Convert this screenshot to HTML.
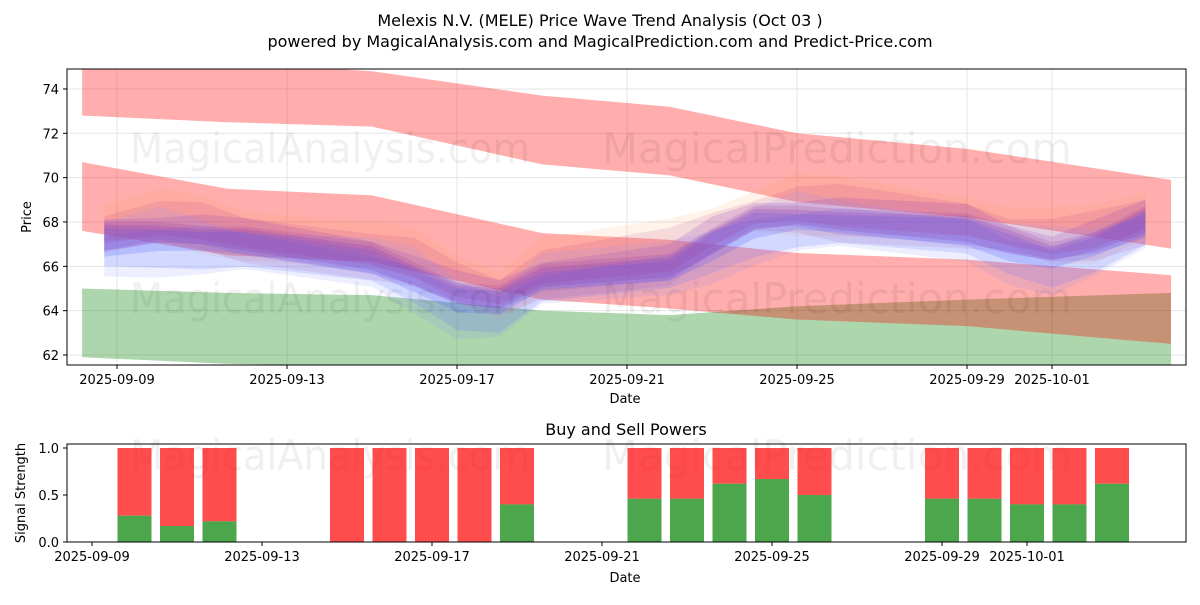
<!DOCTYPE html>
<html><head><meta charset="utf-8"><style>
body{margin:0;background:#fff;font-family:"Liberation Sans","DejaVu Sans",sans-serif;}
svg text{font-family:"DejaVu Sans","Liberation Sans",sans-serif;}
</style></head><body>
<svg id="c" width="1200" height="600" xmlns="http://www.w3.org/2000/svg"></svg>
<script>
// ---- data ----
const xTickLabels = ["2025-09-09","2025-09-13","2025-09-17","2025-09-21","2025-09-25","2025-09-29","2025-10-01"];
const xTickDays = [0,4,8,12,16,20,22];
const yTicks = [62,64,66,68,70,72,74];
const bandDays = [-0.82,2.6,6,10,13,16,20,24.8];
const redTopUpper = [75.5,75.2,74.8,73.7,73.2,72.0,71.3,69.9];
const redTopLower = [72.8,72.5,72.3,70.6,70.1,68.9,68.2,66.8];
const redMidUpper = [70.7,69.5,69.2,67.5,67.2,66.6,66.3,65.6];
const redMidLower = [67.6,66.5,66.2,64.5,64.1,63.6,63.3,62.5];
const greenUpper = [65.0,64.8,64.7,64.0,63.8,64.2,64.5,64.8];
const greenLower = [61.9,61.6,61.5,61.2,60.9,60.5,59.8,58.8];
const waveDays = [-0.3,1,2,3,6,7,8,9,10,13,14,15,16,17,20,21,22,23,24.2];
const waveCenter = [67.2,67.4,67.2,67.0,66.3,65.6,64.6,64.3,65.4,66.0,67.0,67.9,68.1,68.0,67.6,67.0,66.5,66.9,67.9];
const barDays = [1,2,3,6,7,8,9,10,13,14,15,16,17,20,21,22,23,24];
const buyPower = [0.28,0.17,0.22,0,0,0,0,0.4,0.46,0.46,0.62,0.67,0.5,0.46,0.46,0.4,0.4,0.62];

const NS="http://www.w3.org/2000/svg", svg=document.getElementById('c');
function mk(t,a,p){const e=document.createElementNS(NS,t);for(const k in a)e.setAttribute(k,a[k]);(p||svg).appendChild(e);return e;}
const T={l:67,r:1186,t:69,b:365};
const xT=d=>117+d*42.5, yT=v=>355-(v-62)*22.17;
const B={l:67,r:1186,t:444,b:542};
const xB=d=>92+d*42.5, yB=v=>542-v*94;

const clip=mk('clipPath',{id:'ct'});mk('rect',{x:T.l,y:T.t,width:T.r-T.l,height:T.b-T.t},clip);
yTicks.forEach(v=>{const g=mk('line',{x1:T.l,x2:T.r,y1:yT(v),y2:yT(v),stroke:'#e5e5e5'});});
xTickDays.forEach(d=>{const g=mk('line',{x1:xT(d),x2:xT(d),y1:T.t,y2:T.b,stroke:'#e5e5e5'});});
const gT=mk('g',{'clip-path':'url(#ct)'});
function band(days,up,lo,fill,op,name){
  const pts=days.map((d,i)=>xT(d)+','+yT(up[i])).concat(days.map((d,i)=>xT(d)+','+yT(lo[i])).reverse());
  const p=mk('polygon',{points:pts.join(' '),fill:fill,'fill-opacity':op},gT);
  
}
band(bandDays,redTopUpper,redTopLower,'#ff0000',0.32,'red-upper-band');
band(bandDays,greenUpper,greenLower,'#008000',0.32,'green-band');
band(bandDays,redMidUpper,redMidLower,'#ff0000',0.32,'red-middle-band');
// waves
const waveSpecs=[[0.7,1.1,'#ffa050',0.12],[0.4,1.0,'#c04080',0.14],[0.3,0.7,'#9040c0',0.2],[-0.3,1.2,'#8090ff',0.14],[-0.4,0.8,'#6070ff',0.18],[-0.1,0.5,'#5060ff',0.22],[0.1,0.45,'#8040c0',0.25],[0.3,0.4,'#a040a0',0.2]];
waveSpecs.forEach(s=>{
  const up=waveCenter.map((v,i)=>v+s[0]+s[1]*(1+0.35*Math.sin(i*1.7+s[1]*5)));
  const lo=waveCenter.map((v,i)=>v+s[0]-s[1]*(1+0.35*Math.cos(i*1.3+s[0]*4)));
  band(waveDays,up,lo,s[2],s[3],'wave-band');
});
// watermarks
[[330,148],[837,148],[330,298],[837,298],[330,455],[837,455]].forEach((p,i)=>{const t=mk('text',{x:p[0],y:p[1]+15,'font-size':42,fill:'#000','fill-opacity':0.06,'text-anchor':'middle',textLength:i%2?470:400,lengthAdjust:'spacingAndGlyphs'});t.textContent=i%2?'MagicalPrediction.com':'MagicalAnalysis.com';});
const f1=mk('rect',{x:T.l,y:T.t,width:T.r-T.l,height:T.b-T.t,fill:'none',stroke:'#000'});
yTicks.forEach(v=>{mk('line',{x1:T.l-4,x2:T.l,y1:yT(v),y2:yT(v),stroke:'#000'});const t=mk('text',{x:T.l-8,y:yT(v)+5,'font-size':13,'text-anchor':'end'});t.textContent=v;});
xTickDays.forEach((d,i)=>{mk('line',{x1:xT(d),x2:xT(d),y1:T.b,y2:T.b+4,stroke:'#000'});const t=mk('text',{x:xT(d),y:T.b+19,'font-size':13,'text-anchor':'middle'});t.textContent=xTickLabels[i];});
function txt(x,y,s,sz,name,rot){const t=mk('text',{x:x,y:y,'font-size':sz,'text-anchor':'middle'});if(rot)t.setAttribute('transform','rotate(-90 '+x+' '+y+')');t.textContent=s;}
txt(600,26,'Melexis N.V. (MELE) Price Wave Trend Analysis (Oct 03 )',16,'chart-title');
txt(600,47,'powered by MagicalAnalysis.com and MagicalPrediction.com and Predict-Price.com',16,'chart-subtitle');
txt(625,403,'Date',13,'x-axis-title');
txt(31,217,'Price',13,'y-axis-title',true);
txt(626,435,'Buy and Sell Powers',16,'bottom-title');
barDays.forEach((d,i)=>{
  const x=xB(d)-17;
  const r=mk('rect',{x:x,y:yB(1),width:34,height:yB(buyPower[i])-yB(1),fill:'#ff0000','fill-opacity':0.7});
  const g=mk('rect',{x:x,y:yB(buyPower[i]),width:34,height:yB(0)-yB(buyPower[i]),fill:'#008000','fill-opacity':0.7});
});
const f2=mk('rect',{x:B.l,y:B.t,width:B.r-B.l,height:B.b-B.t,fill:'none',stroke:'#000'});
[0,0.5,1].forEach(v=>{mk('line',{x1:B.l-4,x2:B.l,y1:yB(v),y2:yB(v),stroke:'#000'});const t=mk('text',{x:B.l-8,y:yB(v)+5,'font-size':13,'text-anchor':'end'});t.textContent=v.toFixed(1);});
xTickDays.forEach((d,i)=>{mk('line',{x1:xB(d),x2:xB(d),y1:B.b,y2:B.b+4,stroke:'#000'});const t=mk('text',{x:xB(d),y:B.b+19,'font-size':13,'text-anchor':'middle'});t.textContent=xTickLabels[i];});
txt(625,582,'Date',13,'x-axis-title');
txt(25,493,'Signal Strength',13,'y-axis-title',true);
</script>
</body></html>
